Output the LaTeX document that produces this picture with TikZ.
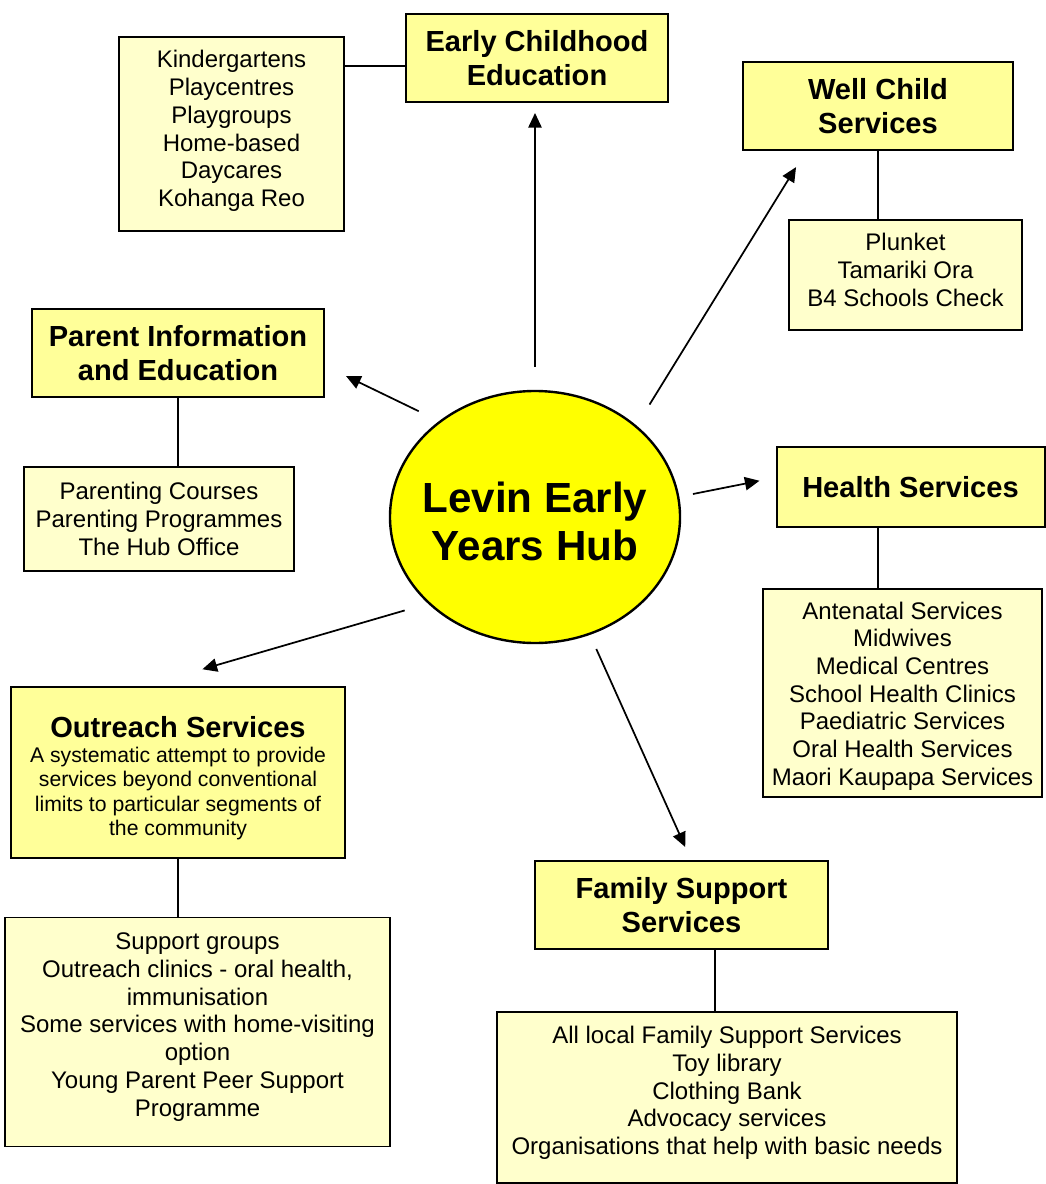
\documentclass[tikz,border=0pt]{standalone}
\usepackage{fontspec}
\setmainfont{Liberation Sans}
\usetikzlibrary{arrows.meta,shapes.geometric}
\definecolor{headyellow}{RGB}{255,255,153}
\definecolor{listyellow}{RGB}{255,255,204}
\definecolor{hubyellow}{RGB}{255,255,0}
\newcommand{\boxheadfont}{\fontsize{21.8}{25}\selectfont\bfseries}
\newcommand{\boxlistfont}{\fontsize{18}{20.8}\selectfont}
\newcommand{\boxnotefont}{\fontsize{15.9}{18.3}\selectfont}
\tikzset{
  headbox/.style={draw=black, line width=1.5pt, fill=headyellow, align=center, inner sep=0pt, font=\boxheadfont},
  listbox/.style={draw=black, line width=1.1pt, fill=listyellow, align=center, inner sep=0pt, font=\boxlistfont},
  hubnode/.style={ellipse, draw=black, line width=1.8pt, fill=hubyellow, align=center, inner sep=0pt, font=\fontsize{31.6}{36}\selectfont\bfseries},
  spoke/.style={line width=1.3pt, -{Triangle[length=11pt,width=10pt]}},
  tie/.style={line width=1.1pt}
}
\begin{document}
\begin{tikzpicture}[x=0.75pt,y=-0.75pt]
\useasboundingbox (0,0) rectangle (1045,1184);
%\draw[step=50,gray,very thin] (0,0) grid (1045,1184); %background grid
% the hub
\node[hubnode, minimum width=217.5pt, minimum height=189pt] (hub) at (535,517) {\makebox[0pt]{\rule{0pt}{29pt}Levin Early}\\\makebox[0pt]{Years Hub}};
% headings
\node[headbox, minimum width=196.5pt, minimum height=66pt] (ece) at (537,58) {Early Childhood\\Education};
\node[headbox, minimum width=202.5pt, minimum height=66pt] (well) at (878,106) {Well Child\\Services};
\node[headbox, minimum width=219pt, minimum height=66pt] (parent) at (178,353) {Parent Information\\and Education};
\node[headbox, minimum width=201pt, minimum height=60pt] (health) at (910.5,487) {Health Services};
\node[headbox, font=\boxnotefont, minimum width=250.5pt, minimum height=128.25pt] (outreach) at (178,772.5) {{\boxheadfont\rule{0pt}{24.2pt}Outreach Services}\\[0.5pt]A systematic attempt to provide\\services beyond conventional\\limits to particular segments of\\the community};
\node[headbox, minimum width=219.75pt, minimum height=66pt] (family) at (681.5,905) {Family Support\\Services};
% lists
\node[listbox, minimum width=168.75pt, minimum height=145.5pt] (ecel) at (231.5,134) {Kindergartens\\Playcentres\\Playgroups\\Home-based\\Daycares\\Kohanga Reo\rule[-8.3pt]{0pt}{0pt}};
\node[listbox, minimum width=174.75pt, minimum height=82.5pt] (welll) at (905.5,275) {Plunket\\Tamariki Ora\\B4 Schools Check\rule[-7.8pt]{0pt}{0pt}};
\node[listbox, minimum width=202.5pt, minimum height=78pt] (parentl) at (159,519) {Parenting Courses\\Parenting Programmes\\The Hub Office};
\node[listbox, minimum width=209.25pt, minimum height=156pt] (healthl) at (902.5,693) {\rule{0pt}{17.6pt}Antenatal Services\\Midwives\\Medical Centres\\School Health Clinics\\Paediatric Services\\Oral Health Services\\Maori Kaupapa Services};
\node[listbox, minimum width=288.75pt, minimum height=171.75pt] (outreachl) at (197.5,1032) {Support groups\\Outreach clinics - oral health,\\immunisation\\Some services with home-visiting\\option\\Young Parent Peer Support\\Programme\rule[-11.3pt]{0pt}{0pt}};
\node[listbox, minimum width=345pt, minimum height=128.25pt] (familyl) at (727,1097.5) {All local Family Support Services\\Toy library\\Clothing Bank\\Advocacy services\\Organisations that help with basic needs\rule[-10.5pt]{0pt}{0pt}};
% arrows out of the hub
\draw[spoke, shorten <=17.25pt, shorten >=7.5pt] (hub.north) -- (hub.north |- ece.south);
\draw[spoke, shorten <=18.5pt, shorten >=14.2pt] (hub.42) -- (well.212);
\draw[spoke, shorten <=16.9pt, shorten >=17.5pt] (hub.135) -- (parent.355);
\draw[spoke, shorten <=10.4pt, shorten >=12.2pt] (hub.8) -- (health.176.6);
\draw[spoke, shorten <=18.2pt, shorten >=45pt] (hub.219) -- (outreach.111);
\draw[spoke, shorten <=11.6pt, shorten >=10.7pt] (hub.295) -- (family.78);
% heading to list
\draw[tie] ([yshift=-6pt]ece.west) -- ([yshift=-6pt]ece.west -| ecel.east);
\draw[tie] (well.south) -- (well.south |- welll.north);
\draw[tie] (parent.south) -- (parent.south |- parentl.north);
\draw[tie] ([xshift=-24.4pt]health.south) -- ([xshift=-24.4pt]health.south |- healthl.north);
\draw[tie] (outreach.south) -- (outreach.south |- outreachl.north);
\draw[tie] ([xshift=25.1pt]family.south) -- ([xshift=25.1pt]family.south |- familyl.north);
\end{tikzpicture}
\end{document}
